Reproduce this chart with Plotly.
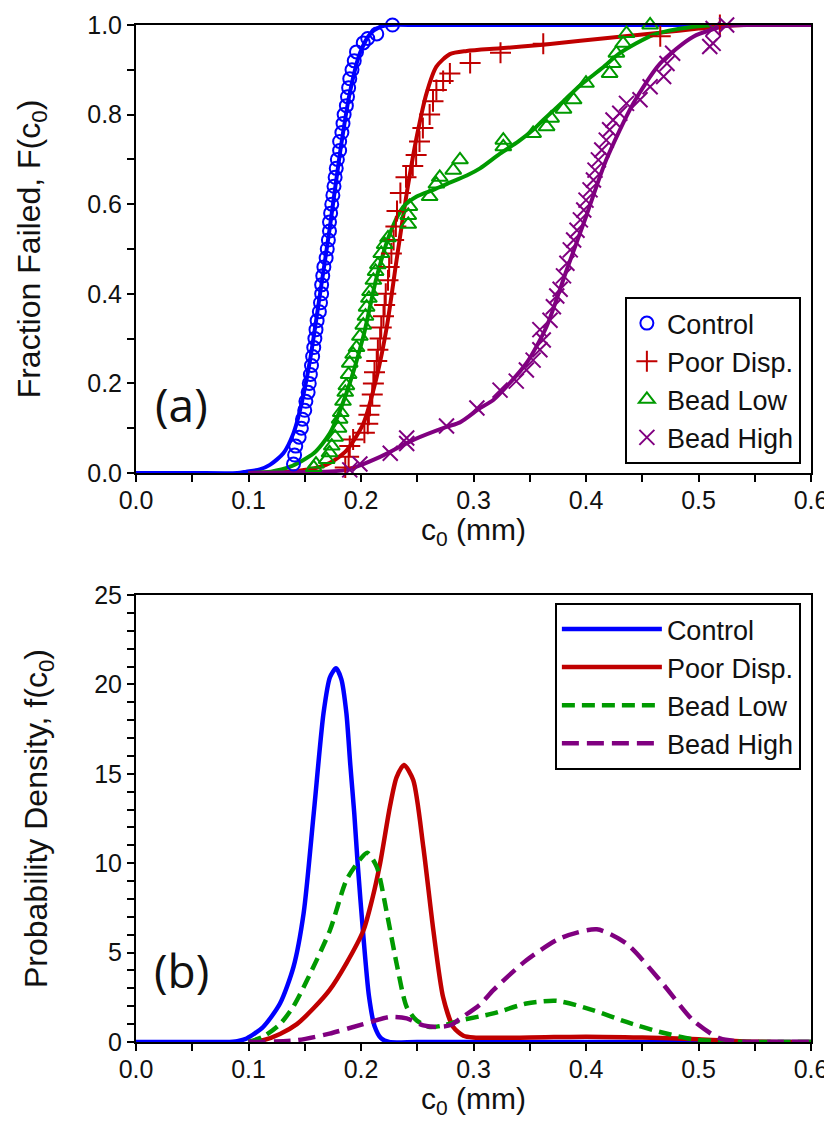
import plotly.graph_objects as go

# ---------------- data: panel (a) CDF markers ----------------
ctrl_x = [0.140, 0.141, 0.142, 0.145, 0.147, 0.148, 0.150, 0.151, 0.153, 0.154,
          0.155, 0.156, 0.157, 0.158, 0.159, 0.160, 0.161, 0.163, 0.164, 0.165,
          0.165, 0.166, 0.167, 0.169, 0.170, 0.171, 0.172, 0.172, 0.173, 0.174,
          0.175, 0.176, 0.177, 0.178, 0.179, 0.181, 0.181, 0.183, 0.184, 0.185,
          0.187, 0.188, 0.189, 0.190, 0.192, 0.194, 0.196, 0.202, 0.206, 0.214, 0.228]
ctrl_F = [0.02, 0.04, 0.06, 0.08, 0.10, 0.12, 0.14, 0.16, 0.18, 0.20,
          0.22, 0.24, 0.26, 0.28, 0.30, 0.32, 0.34, 0.36, 0.38, 0.40,
          0.42, 0.44, 0.46, 0.48, 0.50, 0.52, 0.54, 0.56, 0.58, 0.60,
          0.62, 0.64, 0.66, 0.68, 0.70, 0.72, 0.74, 0.76, 0.78, 0.80,
          0.82, 0.84, 0.86, 0.88, 0.90, 0.92, 0.94, 0.96, 0.97, 0.98, 1.00]

poor_x = [0.186, 0.189, 0.190, 0.193, 0.203, 0.206, 0.207, 0.208, 0.210, 0.211,
          0.212, 0.214, 0.215, 0.217, 0.218, 0.220, 0.221, 0.222, 0.224, 0.225,
          0.227, 0.229, 0.231, 0.232, 0.235, 0.240, 0.246, 0.249, 0.252, 0.255,
          0.261, 0.264, 0.267, 0.273, 0.279, 0.297, 0.324, 0.362, 0.466, 0.519]
poor_F = [0.012, 0.036, 0.060, 0.075, 0.090, 0.110, 0.130, 0.150, 0.175, 0.200,
          0.225, 0.250, 0.275, 0.300, 0.325, 0.350, 0.375, 0.400, 0.430, 0.460,
          0.490, 0.520, 0.550, 0.585, 0.625, 0.660, 0.685, 0.710, 0.740, 0.770,
          0.800, 0.830, 0.855, 0.875, 0.892, 0.915, 0.938, 0.958, 0.975, 1.000]

blow_x = [0.158, 0.160, 0.1695, 0.172, 0.174, 0.177, 0.180, 0.181, 0.182, 0.184,
          0.186, 0.187, 0.189, 0.190, 0.193, 0.196, 0.199, 0.202, 0.204, 0.205,
          0.207, 0.208, 0.211, 0.213, 0.215, 0.218, 0.221, 0.224, 0.242, 0.242,
          0.243, 0.261, 0.267, 0.270, 0.282, 0.288, 0.3265, 0.3265, 0.353, 0.365,
          0.369, 0.380, 0.389, 0.400, 0.421, 0.424, 0.427, 0.433, 0.436, 0.457]
blow_F = [0.012, 0.020, 0.030, 0.045, 0.060, 0.080, 0.100, 0.120, 0.135, 0.160,
          0.180, 0.195, 0.220, 0.245, 0.265, 0.280, 0.305, 0.330, 0.350, 0.370,
          0.390, 0.405, 0.430, 0.450, 0.465, 0.490, 0.510, 0.525, 0.555, 0.575,
          0.595, 0.617, 0.645, 0.660, 0.676, 0.699, 0.728, 0.743, 0.758, 0.773,
          0.792, 0.812, 0.833, 0.870, 0.892, 0.914, 0.937, 0.959, 0.981, 1.000]

bhigh_x = [0.190, 0.199, 0.226, 0.2406, 0.2406, 0.276, 0.303, 0.3236, 0.338, 0.347,
           0.353, 0.359, 0.362, 0.359, 0.368, 0.371, 0.374, 0.377, 0.380, 0.383,
           0.386, 0.389, 0.392, 0.395, 0.398, 0.400, 0.4036, 0.4066, 0.408, 0.411,
           0.414, 0.418, 0.421, 0.424, 0.430, 0.436, 0.448, 0.457, 0.469, 0.472,
           0.477, 0.510, 0.513, 0.513, 0.525]
bhigh_F = [0.007, 0.020, 0.044, 0.066, 0.078, 0.105, 0.145, 0.185, 0.205, 0.230,
           0.252, 0.275, 0.297, 0.320, 0.341, 0.371, 0.395, 0.410, 0.440, 0.468,
           0.498, 0.520, 0.542, 0.565, 0.587, 0.609, 0.632, 0.654, 0.676, 0.699,
           0.721, 0.743, 0.766, 0.788, 0.803, 0.825, 0.833, 0.862, 0.885, 0.914,
           0.937, 0.952, 0.959, 0.992, 1.000]

# ---------------- data: panel (a) fitted CDF curves ----------------
ctrl_fit_x = [0.0, 0.05, 0.09, 0.098, 0.110, 0.119, 0.131, 0.140, 0.1458, 0.1547, 0.1636,
              0.1724, 0.1813, 0.190, 0.199, 0.208, 0.217, 0.226, 0.25, 0.30, 0.40, 0.50, 0.60]
ctrl_fit_F = [0.0, 0.0, 0.0, 0.003, 0.008, 0.018, 0.044, 0.089, 0.14, 0.252, 0.40,
              0.55, 0.714, 0.848, 0.937, 0.98, 0.996, 1.0, 1.0, 1.0, 1.0, 1.0, 1.0]

poor_fit_x = [0.10, 0.13, 0.145, 0.158, 0.172, 0.187, 0.202, 0.214, 0.223, 0.2316, 0.2406,
              0.2495, 0.2583, 0.267, 0.279, 0.294, 0.3236, 0.362, 0.395, 0.43, 0.466,
              0.50, 0.519, 0.54, 0.57, 0.60]
poor_fit_F = [0.0, 0.002, 0.005, 0.010, 0.022, 0.050, 0.110, 0.215, 0.327, 0.475, 0.624,
              0.750, 0.848, 0.907, 0.935, 0.942, 0.948, 0.956, 0.965, 0.974, 0.983,
              0.992, 0.997, 1.0, 1.0, 1.0]

blow_fit_x = [0.10, 0.12, 0.137, 0.158, 0.1724, 0.187, 0.202, 0.214, 0.2258, 0.2376, 0.2495,
              0.2643, 0.276, 0.294, 0.3058, 0.3236, 0.34, 0.353, 0.362, 0.38, 0.3947,
              0.415, 0.43, 0.46, 0.4953, 0.52, 0.56, 0.60]
blow_fit_F = [0.0, 0.003, 0.014, 0.044, 0.089, 0.178, 0.304, 0.438, 0.535, 0.594, 0.617,
              0.632, 0.645, 0.664, 0.680, 0.713, 0.740, 0.766, 0.788, 0.830, 0.865,
              0.905, 0.937, 0.978, 0.996, 1.0, 1.0, 1.0]

bhigh_fit_x = [0.10, 0.15, 0.187, 0.217, 0.2465, 0.276, 0.288, 0.3058, 0.3176, 0.347, 0.365,
               0.3828, 0.40, 0.418, 0.442, 0.4658, 0.4953, 0.525, 0.55, 0.60]
bhigh_fit_F = [0.0, 0.002, 0.007, 0.036, 0.074, 0.103, 0.113, 0.145, 0.163, 0.245, 0.327,
               0.453, 0.572, 0.699, 0.825, 0.914, 0.974, 0.998, 1.0, 1.0]

# ---------------- data: panel (b) PDF curves ----------------
ctrl_pdf_x = [0.0, 0.05, 0.08, 0.09, 0.0984, 0.113, 0.128, 0.140, 0.149, 0.158, 0.1667,
              0.1724, 0.1778, 0.1825, 0.187, 0.1905, 0.194, 0.197, 0.202, 0.207, 0.212,
              0.218, 0.225, 0.25, 0.35, 0.45, 0.60]
ctrl_pdf_f = [0.0, 0.0, 0.0, 0.05, 0.2, 0.84, 2.15, 4.2, 7.2, 12.8, 18.4,
              20.4, 20.9, 20.3, 18.4, 15.5, 12.8, 10.0, 6.0, 2.6, 0.9,
              0.2, 0.0, 0.0, 0.0, 0.0, 0.0]

poor_pdf_x = [0.10, 0.113, 0.128, 0.143, 0.158, 0.172, 0.187, 0.2022, 0.210, 0.217, 0.2258,
              0.2316, 0.2382, 0.2464, 0.2554, 0.2643, 0.273, 0.282, 0.291, 0.30, 0.35,
              0.40, 0.45, 0.50, 0.54, 0.57, 0.60]
poor_pdf_f = [0.0, 0.1, 0.45, 1.0, 1.9, 2.9, 4.4, 6.25, 8.0, 10.0, 13.2,
              14.8, 15.5, 14.65, 10.9, 6.25, 2.5, 0.84, 0.35, 0.25, 0.25,
              0.30, 0.25, 0.15, 0.03, 0.0, 0.0]

blow_pdf_x = [0.10, 0.113, 0.128, 0.140, 0.152, 0.1724, 0.187, 0.199, 0.2056, 0.214, 0.223,
              0.2316, 0.2406, 0.2495, 0.2613, 0.275, 0.288, 0.3176, 0.347, 0.374, 0.4067,
              0.436, 0.4658, 0.4953, 0.525, 0.56, 0.60]
blow_pdf_f = [0.0, 0.3, 1.0, 2.0, 3.45, 6.25, 9.05, 10.2, 10.58, 9.8, 7.2,
              4.4, 1.96, 1.2, 0.84, 0.95, 1.2, 1.6, 2.15, 2.3, 1.77,
              1.12, 0.56, 0.15, 0.02, 0.0, 0.0]

bhigh_pdf_x = [0.10, 0.143, 0.172, 0.202, 0.2258, 0.2406, 0.2554, 0.267, 0.28, 0.288, 0.3058,
               0.3176, 0.347, 0.3769, 0.4096, 0.436, 0.4658, 0.4953, 0.519, 0.54, 0.57, 0.60]
bhigh_pdf_f = [0.0, 0.1, 0.47, 1.0, 1.4, 1.32, 0.93, 0.84, 0.95, 1.3, 2.1,
               2.9, 4.57, 5.8, 6.3, 5.5, 3.45, 1.2, 0.2, 0.02, 0.0, 0.0]

names = ["Control", "Poor Disp.", "Bead Low", "Bead High"]
colors = ["#0000FF", "#C00000", "#009A00", "#800080"]

x_ticks = [0.0, 0.1, 0.2, 0.3, 0.4, 0.5, 0.6]

# ---------------- figure ----------------
NARROW = "Liberation Sans Narrow, Arial Narrow, Liberation Sans, sans-serif"
SANS = "Liberation Sans, Arial, sans-serif"

fig = go.Figure()

fits = [(ctrl_fit_x, ctrl_fit_F), (poor_fit_x, poor_fit_F),
        (blow_fit_x, blow_fit_F), (bhigh_fit_x, bhigh_fit_F)]
marks = [(ctrl_x, ctrl_F), (poor_x, poor_F), (blow_x, blow_F), (bhigh_x, bhigh_F)]
symbols = ["circle-open", "cross-thin-open", "triangle-up-open", "x-thin-open"]
msizes = [13, 15, 14, 15]

for i in range(4):
    fig.add_trace(go.Scatter(
        x=fits[i][0], y=fits[i][1], mode="lines",
        line=dict(color=colors[i], width=4, shape="spline", smoothing=0.7),
        showlegend=False, xaxis="x", yaxis="y", hoverinfo="skip"))

for i in range(4):
    fig.add_trace(go.Scatter(
        x=marks[i][0], y=marks[i][1], mode="markers", name=names[i],
        marker=dict(symbol=symbols[i], size=msizes[i], color=colors[i],
                    line=dict(color=colors[i], width=2)),
        cliponaxis=False, legend="legend", xaxis="x", yaxis="y"))

pdfs = [(ctrl_pdf_x, ctrl_pdf_f), (poor_pdf_x, poor_pdf_f),
        (blow_pdf_x, blow_pdf_f), (bhigh_pdf_x, bhigh_pdf_f)]
dashes = ["solid", "solid", "13px,7px", "17px,8px"]
for i in range(4):
    fig.add_trace(go.Scatter(
        x=pdfs[i][0], y=pdfs[i][1], mode="lines", name=names[i],
        line=dict(color=colors[i], width=4.5, dash=dashes[i], shape="spline", smoothing=0.7),
        legend="legend2", xaxis="x2", yaxis="y2"))

axis_common = dict(
    showline=True, linewidth=2, linecolor="black", mirror=True,
    showgrid=False, zeroline=False, automargin=False,
    ticks="outside", ticklen=7, tickwidth=2, tickcolor="black",
    tickfont=dict(family=NARROW, size=25, color="#111"),
)

xcommon = dict(axis_common, range=[0, 0.6], tickvals=x_ticks, tickformat=".1f",
               ticklabelstandoff=-3,
               minor=dict(dtick=0.05, tick0=0, ticks="outside", ticklen=7, tickwidth=2,
                          tickcolor="black", showgrid=False))

xtitle_font = dict(family=NARROW, size=30, color="#111")

# the page body adds an 8 px offset, so the figure is 8 px smaller and margins shifted
fig.update_layout(
    width=824, height=1125,
    margin=dict(l=128, r=21, t=17, b=91),
    paper_bgcolor="white", plot_bgcolor="white",
    xaxis=dict(xcommon, domain=[0, 1], anchor="y"),
    yaxis=dict(axis_common, domain=[0.5595, 1.0], anchor="x", range=[0, 1],
               dtick=0.2, tickformat=".1f",
               minor=dict(dtick=0.1, tick0=0, ticks="outside", ticklen=7, tickwidth=2,
                          tickcolor="black", showgrid=False),
               title=dict(text="Fraction Failed, F(c<sub>0</sub>)",
                          font=dict(family=SANS, size=32, color="#111"), standoff=37)),
    xaxis2=dict(xcommon, domain=[0, 1], anchor="y2"),
    yaxis2=dict(axis_common, domain=[0, 0.4395], anchor="x2", range=[0, 25],
                dtick=5,
                minor=dict(dtick=1, tick0=0, ticks="outside", ticklen=7, tickwidth=2,
                           tickcolor="black", showgrid=False),
                title=dict(text="Probability Density, f(c<sub>0</sub>)",
                           font=dict(family=SANS, size=32, color="#111"), standoff=37)),
    legend=dict(x=0.985, xanchor="right", y=0.5683, yanchor="bottom",
                bordercolor="black", borderwidth=2, bgcolor="white",
                font=dict(family=SANS, size=27, color="#111"), tracegroupgap=0),
    legend2=dict(x=0.985, xanchor="right", y=0.4317, yanchor="top",
                 bordercolor="black", borderwidth=2, bgcolor="white", itemwidth=100,
                 font=dict(family=SANS, size=27, color="#111"), tracegroupgap=0),
    annotations=[
        dict(text="c<sub>0</sub> (mm)", xref="x domain", yref="y domain", x=0.5, y=-0.131,
             xanchor="center", yanchor="middle", showarrow=False, font=xtitle_font),
        dict(text="c<sub>0</sub> (mm)", xref="x2 domain", yref="y2 domain", x=0.5, y=-0.131,
             xanchor="center", yanchor="middle", showarrow=False, font=xtitle_font),
        dict(text="(a)", xref="x domain", yref="y domain", x=0.067, y=0.155,
             xanchor="center", yanchor="middle", showarrow=False,
             font=dict(family="Open Sans, Noto Sans, sans-serif", size=46, color="#111")),
        dict(text="(b)", xref="x2 domain", yref="y2 domain", x=0.067, y=0.16,
             xanchor="center", yanchor="middle", showarrow=False,
             font=dict(family="Open Sans, Noto Sans, sans-serif", size=46, color="#111")),
    ],
)

fig.write_html("out.html")
